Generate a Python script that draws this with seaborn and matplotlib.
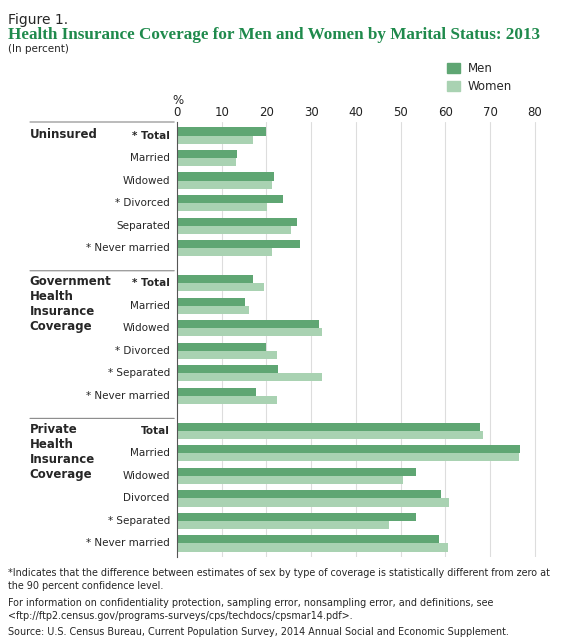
import matplotlib
matplotlib.use("Agg")
import matplotlib.pyplot as plt
import seaborn as sns
import pandas as pd
import numpy as np

groups = ["Uninsured", "Government\nHealth\nInsurance\nCoverage", "Private\nHealth\nInsurance\nCoverage"]
statuses = ["Total", "Married", "Widowed", "Divorced", "Separated", "Never married"]
stars = [
    [True, False, False, True, False, True],
    [True, False, False, True, True, True],
    [False, False, False, False, True, True],
]
men = [
    [19.8, 13.4, 21.6, 23.7, 26.9, 27.5],
    [16.9, 15.3, 31.8, 19.9, 22.6, 17.7],
    [67.8, 76.8, 53.5, 59.1, 53.4, 58.6],
]
women = [
    [17.0, 13.1, 21.2, 20.2, 25.4, 21.3],
    [19.5, 16.0, 32.4, 22.3, 32.5, 22.3],
    [68.4, 76.5, 50.5, 60.8, 47.4, 60.5],
]
ticks = [0, 10, 20, 30, 40, 50, 60, 70, 80]

C_MEN = "#5fa673"
C_WOMEN = "#a9d2b2"
GAP = 0.55

rows = []
ypos = []
for g in range(3):
    for i, s in enumerate(statuses):
        y = g * (len(statuses) + GAP) + i
        ypos.append(y)
        rows.append(dict(y=y, sex="Men", val=men[g][i]))
        rows.append(dict(y=y, sex="Women", val=women[g][i]))
df = pd.DataFrame(rows)

sns.set_style("white")
plt.rcParams["font.family"] = ["DejaVu Sans"]
fig = plt.figure(figsize=(5.8, 6.4), dpi=100)
ax = fig.add_axes([177/580, 1-557/640, (537-177)/580, (557-122)/640])
sns.barplot(data=df, x="val", y="y", hue="sex", orient="h", native_scale=True,
            palette=[C_MEN, C_WOMEN], width=0.72, gap=0, ax=ax, legend=False,
            saturation=1, edgecolor="none")
ax.set_xlim(0, 80.5)
ax.set_ylim(max(ypos) + 0.6, -0.6)
ax.set_xticks(ticks)
ax.xaxis.tick_top()
ax.tick_params(axis="x", length=0, labelsize=8.5, pad=2, colors="#222222")
ax.set_yticks([])
ax.set_xlabel(""); ax.set_ylabel("")
for t in ticks[1:]:
    ax.axvline(t, color="#dddddd", lw=0.8, zorder=0)
for sp in ["top", "right", "bottom"]:
    ax.spines[sp].set_visible(False)
ax.spines["left"].set_color("#555555")
ax.spines["left"].set_linewidth(0.8)
fig.text(172/580, 1-104/640, "%", fontsize=8.5)

k = 0
for g in range(3):
    for i, s in enumerate(statuses):
        y = ypos[k]; k += 1
        lab = ("* " if stars[g][i] else "") + s
        ax.text(-1.6, y, lab, ha="right", va="center", fontsize=7.5,
                fontweight="bold" if s == "Total" else "normal", clip_on=False)
    y0 = g * (len(statuses) + GAP)
    ax.text(-33, y0 - 0.35, groups[g], ha="left", va="top", fontsize=8.5, fontweight="bold", clip_on=False)
    yl = y0 - 0.55 if g else -0.6
    ax.annotate("", xy=(0, yl), xytext=(-33.5, yl), xycoords="data", annotation_clip=False,
                arrowprops=dict(arrowstyle="-", color="#888888", lw=0.8))

for j, (lab, col) in enumerate([("Men", C_MEN), ("Women", C_WOMEN)]):
    yy = 1 - (68 + 18*j)/640
    fig.patches.append(plt.Rectangle((447/580, yy - 5/640), 13/580, 10/640, transform=fig.transFigure, color=col))
    fig.text(468/580, yy, lab, va="center", fontsize=8.5)

fig.text(8/580, 1-20/640, "Figure 1.", fontsize=10, va="center")
fig.text(8/580, 1-35/640, "Health Insurance Coverage for Men and Women by Marital Status: 2013",
         fontsize=12.3, fontweight="bold", color="#1f8a4c", family=["Liberation Serif"], va="center")
fig.text(8/580, 1-49/640, "(In percent)", fontsize=7.5, va="center")

foot = [
    (573, "*Indicates that the difference between estimates of sex by type of coverage is statistically different from zero at"),
    (586, "the 90 percent confidence level."),
    (603, "For information on confidentiality protection, sampling error, nonsampling error, and definitions, see"),
    (616, "<ftp://ftp2.census.gov/programs-surveys/cps/techdocs/cpsmar14.pdf>."),
    (632, "Source: U.S. Census Bureau, Current Population Survey, 2014 Annual Social and Economic Supplement."),
]
for yy, t in foot:
    fig.text(8/580, 1-yy/640, t, fontsize=6.9, va="center")

fig.savefig("out.png", dpi=100)
